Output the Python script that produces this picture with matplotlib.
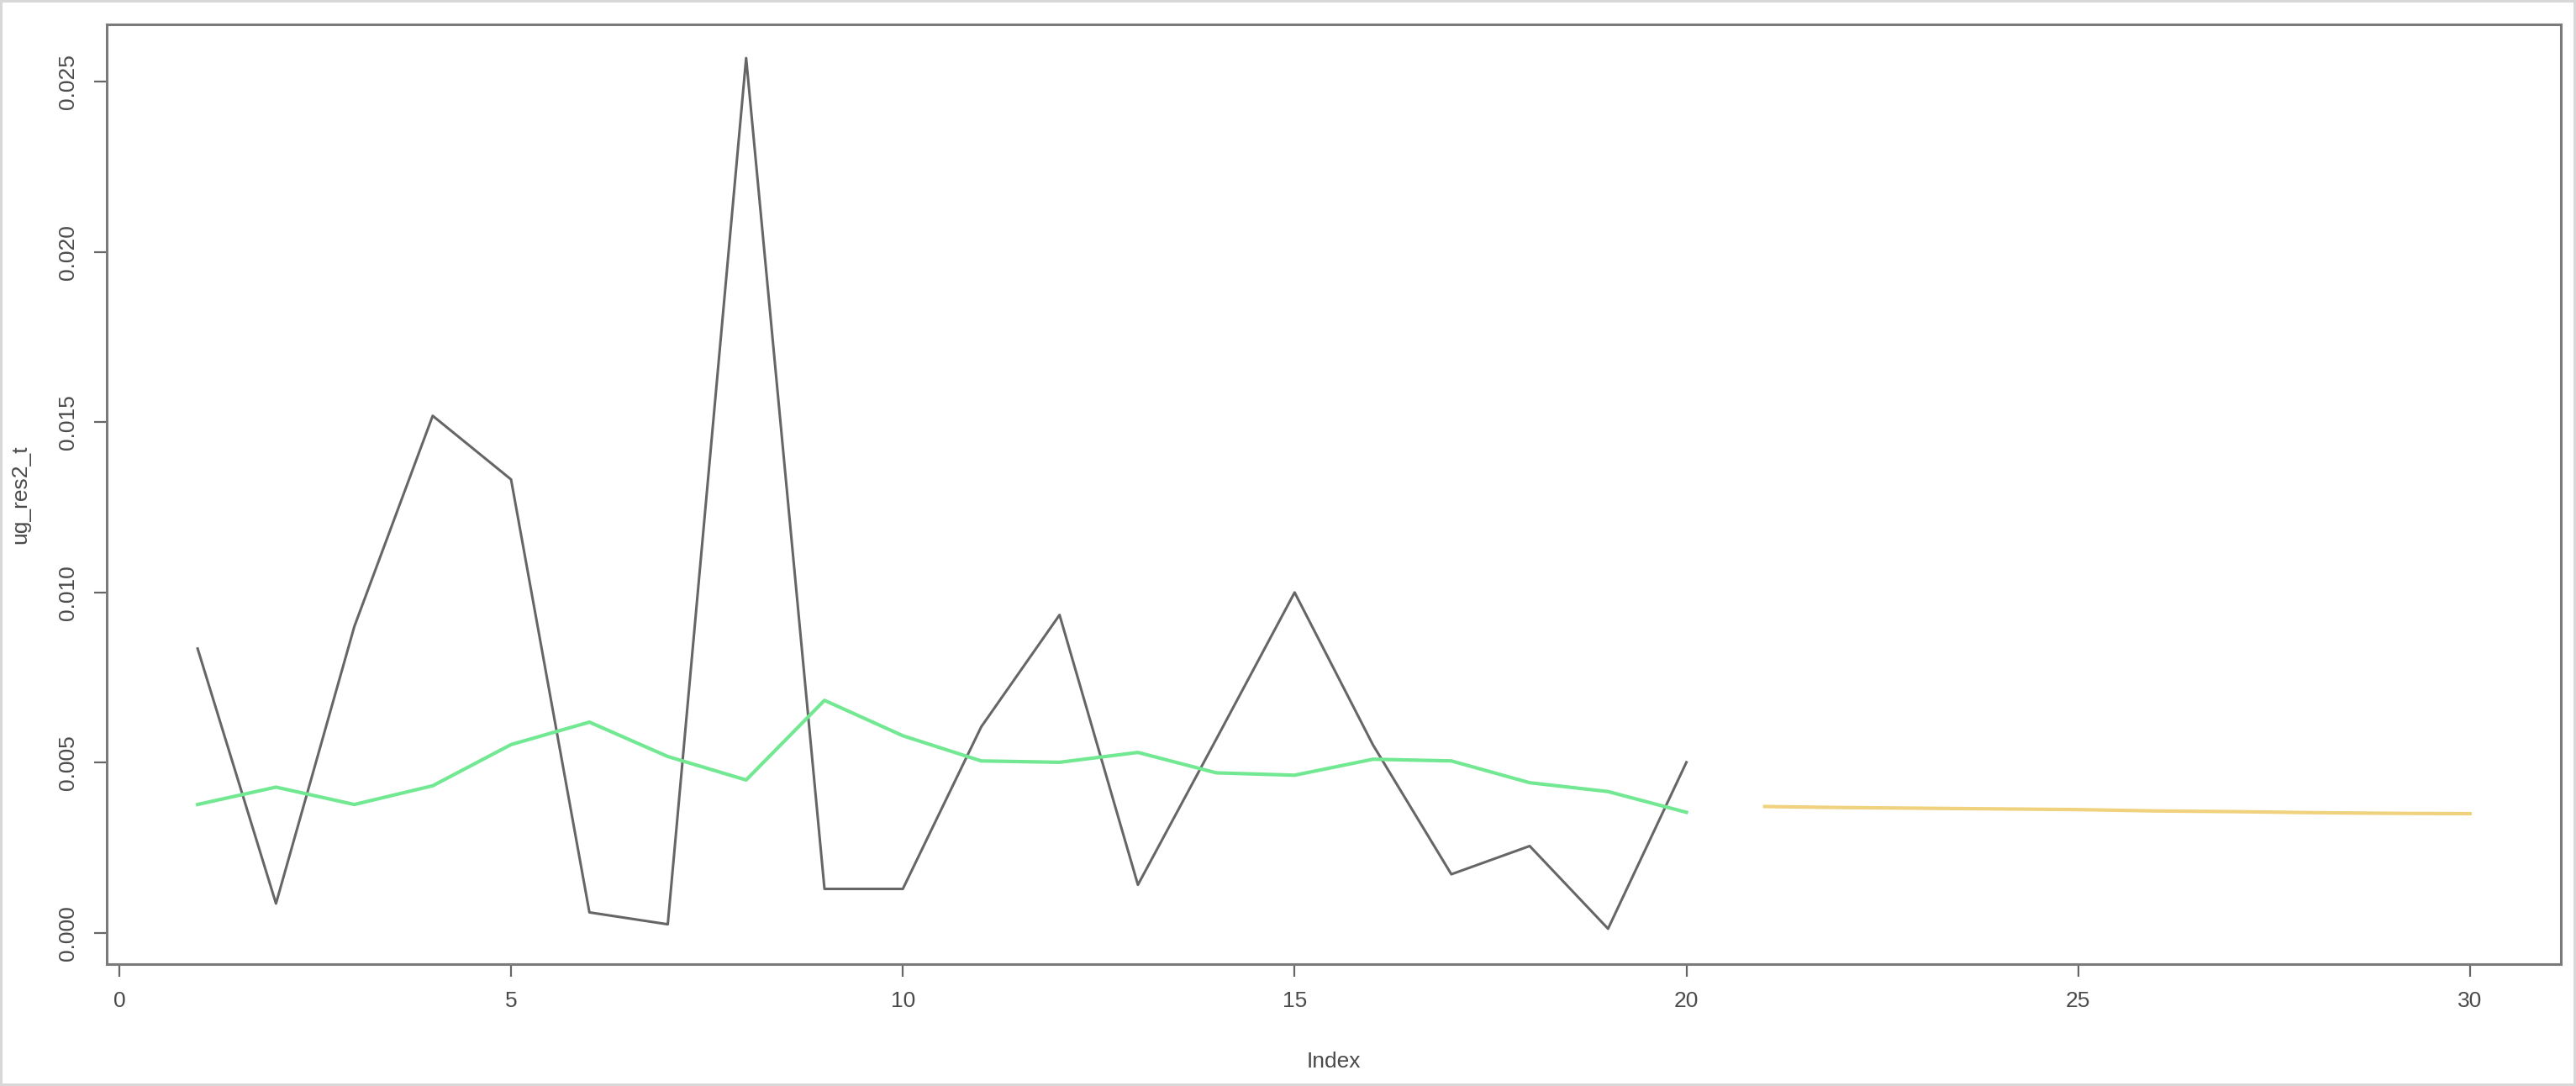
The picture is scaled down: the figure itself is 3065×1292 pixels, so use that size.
import numpy as np
from matplotlib import pyplot as plt

plt.rcParams['font.family'] = ['Liberation Sans', 'DejaVu Sans']

# residual series (black), fitted variance (green), forecast (yellow)
idx_fit = list(range(1, 21))
res2 = [0.00835, 0.00086, 0.00900, 0.01519, 0.01332, 0.00060, 0.00025, 0.02570,
        0.00129, 0.00129, 0.00605, 0.00934, 0.00141, 0.00569, 0.01000, 0.00552,
        0.00172, 0.00255, 0.00012, 0.00501]
fitted = [0.00377, 0.00428, 0.00377, 0.00432, 0.00553, 0.00619, 0.00518, 0.00449,
          0.00683, 0.00579, 0.00505, 0.00501, 0.00530, 0.00470, 0.00463, 0.00510,
          0.00505, 0.00441, 0.00415, 0.00354]
idx_fc = list(range(21, 31))
forecast = [0.00371, 0.00368, 0.00366, 0.00364, 0.00362, 0.00358, 0.00356,
            0.00353, 0.00351, 0.00350]

xticks = [0, 5, 10, 15, 20, 25, 30]
yticks = [0.000, 0.005, 0.010, 0.015, 0.020, 0.025]

fig = plt.figure(figsize=(30.65, 12.92), dpi=100)
ax = fig.add_axes([127/3065, 1 - 1147/1292, (3047 - 127)/3065, (1147 - 29)/1292])

ax.plot(idx_fit, res2, color='#666666', lw=2.2)
ax.plot(idx_fit, fitted, color='#72e892', lw=3.0)
ax.plot(idx_fc, forecast, color='#f0d27e', lw=3.0)

# R style axis ranges (4% extension)
ax.set_xlim(-0.16, 31.16)
ax.set_ylim(-0.00092, 0.02669)

ax.set_xticks(xticks)
ax.set_xticklabels([str(t) for t in xticks])
ax.set_yticks(yticks)
ax.set_yticklabels(['%.3f' % t for t in yticks], rotation=90, va='center', ha='center')

ax.tick_params(axis='both', direction='out', length=11, width=1.6, colors='#666666',
               labelsize=19, labelcolor='#4a4a4a')
ax.tick_params(axis='x', pad=12)
ax.tick_params(axis='y', pad=22)

for s in ax.spines.values():
    s.set_color('#7a7a7a')
    s.set_linewidth(2.2)

ax.set_xlabel('Index', fontsize=19, color='#4a4a4a')
ax.xaxis.set_label_coords(0.5, -0.093)
ax.set_ylabel('ug_res2_t', fontsize=19, color='#4a4a4a')
ax.yaxis.set_label_coords(-0.031, 0.5)

fig.patch.set_edgecolor('#d8d8d8')
fig.patch.set_linewidth(3)

plt.savefig('out.png', dpi=100, edgecolor=fig.get_edgecolor())
